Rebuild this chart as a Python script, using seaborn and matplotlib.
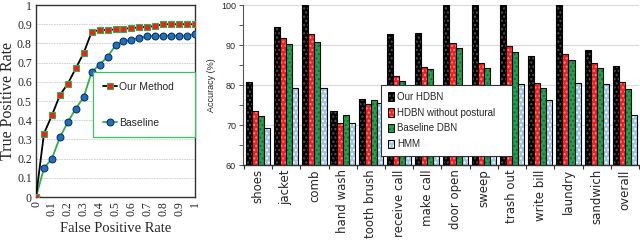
import numpy as np
import pandas as pd
import matplotlib
matplotlib.use("Agg")
import matplotlib.pyplot as plt
import seaborn as sns
from matplotlib.patches import Patch
from matplotlib.lines import Line2D

# ---------------- data ----------------
fpr = [0, 0.05, 0.1, 0.15, 0.2, 0.25, 0.3, 0.35, 0.4, 0.45, 0.5,
       0.55, 0.6, 0.65, 0.7, 0.75, 0.8, 0.85, 0.9, 0.95, 1.0]
tpr_ours = [0, 0.33, 0.425, 0.53, 0.59, 0.67, 0.75, 0.86, 0.87, 0.87, 0.873,
            0.876, 0.88, 0.883, 0.887, 0.89, 0.9, 0.9, 0.9, 0.9, 0.9]
tpr_base = [0, 0.15, 0.2, 0.31, 0.39, 0.46, 0.52, 0.65, 0.69, 0.73, 0.79,
            0.81, 0.82, 0.83, 0.837, 0.84, 0.84, 0.84, 0.84, 0.84, 0.85]

activities = ["shoes", "jacket", "comb", "hand wash", "tooth brush", "receive call",
              "make call", "door open", "sweep", "trash out", "write bill",
              "laundry", "sandwich", "overall"]
methods = ["Our HDBN", "HDBN without postural", "Baseline DBN", "HMM"]
acc_our_hdbn = [80.8, 94.4, 100, 73.5, 76.6, 92.7, 92.9, 100, 100, 100, 87.25, 100, 88.7, 84.8]
acc_no_postural = [73.6, 91.7, 92.75, 70.5, 75.2, 82.25, 84.6, 90.6, 85.6, 89.8, 80.4, 87.75, 85.5, 80.8]
acc_baseline_dbn = [72.3, 90.2, 90.75, 72.5, 76.3, 80.9, 84.1, 89.2, 84.2, 88.2, 79.3, 86.2, 84.2, 78.9]
acc_hmm = [69.3, 79.25, 79.3, 70.5, 75.4, 74.0, 76.0, 78.0, 77.0, 80.25, 76.25, 80.6, 80.2, 72.4]

# ---------------- figure ----------------
sns.set_theme(style="white")
plt.rcParams["font.family"] = ["DejaVu Sans"]
plt.rcParams["hatch.linewidth"] = 1.0

fig = plt.figure(figsize=(6.4, 2.45), dpi=100)

# ---- ROC panel ----
ax1 = fig.add_axes([36 / 640, 1 - 197 / 245, 159 / 640, 192 / 245])
green_line = "#2ab34a"
sns.lineplot(x=fpr, y=tpr_ours, ax=ax1, color="black", lw=1.3, marker="s",
             markersize=4.2, markerfacecolor="#ff1a1a", markeredgecolor="#2ab34a",
             markeredgewidth=0.8, zorder=4)
sns.lineplot(x=fpr, y=tpr_base, ax=ax1, color=green_line, lw=1.3, marker="o",
             markersize=5.0, markerfacecolor="#1f6fc0", markeredgecolor="#0a2a50",
             markeredgewidth=0.7, zorder=3)
ax1.set_xlim(0, 1)
ax1.set_ylim(0, 1)
ax1.set_xticks(np.arange(0, 1.01, 0.1))
ax1.set_yticks(np.arange(0, 1.01, 0.1))
ax1.set_xticklabels(["0", "0.1", "0.2", "0.3", "0.4", "0.5", "0.6", "0.7", "0.8", "0.9", "1"],
                    rotation=90, family="Liberation Serif", fontsize=8.5)
ax1.set_yticklabels(["0", "0.1", "0.2", "0.3", "0.4", "0.5", "0.6", "0.7", "0.8", "0.9", "1"],
                    family="Liberation Serif", fontsize=8.5)
ax1.tick_params(length=0, pad=3)
ax1.yaxis.grid(True, color="#cccccc", lw=0.6, ls=(0, (2, 1)))
ax1.xaxis.grid(False)
for s in ax1.spines.values():
    s.set_color("#333333")
    s.set_linewidth(1.0)
ax1.set_xlabel("False Positive Rate", family="Liberation Serif", fontsize=10.5, labelpad=4)
ax1.set_ylabel("True Positive Rate", family="Liberation Serif", fontsize=11.5, labelpad=1)
h1 = [Line2D([], [], color="black", lw=1.3, marker="s", markersize=4.2,
             markerfacecolor="#ff1a1a", markeredgecolor="#2ab34a", markeredgewidth=0.8),
      Line2D([], [], color=green_line, lw=1.3, marker="o", markersize=5.0,
             markerfacecolor="#1f6fc0", markeredgecolor="#0a2a50", markeredgewidth=0.7)]
leg1 = ax1.legend(h1, ["Our Method", "Baseline"], loc="center",
                  bbox_to_anchor=(0.36, 0.293, 0.64, 0.375), mode="expand",
                  fancybox=False, framealpha=1, edgecolor="#3cc060",
                  prop={"family": "Liberation Sans", "size": 7.5},
                  handlelength=1.4, handletextpad=0.2, labelspacing=2.5,
                  borderpad=0.9, borderaxespad=0)
leg1.get_frame().set_linewidth(0.9)
leg1.set_zorder(5)

# ---- bar panel ----
ax2 = fig.add_axes([243 / 640, 1 - 165 / 245, 396 / 640, 160 / 245])
df = pd.DataFrame({
    "activity": activities * 4,
    "method": sum([[m] * len(activities) for m in methods], []),
    "acc": acc_our_hdbn + acc_no_postural + acc_baseline_dbn + acc_hmm,
})
face = ["#000000", "#ff1a1a", "#1ea34c", "#9ec5e8"]
hatch_col = ["#555555", "#ff9090", "#0e6e30", "#ffffff"]
sns.barplot(data=df, x="activity", y="acc", hue="method", hue_order=methods,
            order=activities, palette=face, ax=ax2, width=0.86, gap=0,
            edgecolor="black", linewidth=0.8, legend=False, saturation=1, zorder=2)
for cont, hc in zip(ax2.containers, hatch_col):
    for p in cont:
        p.set_hatch("....")
        p._hatch_color = matplotlib.colors.to_rgba(hc)

ax2.set_ylim(60, 100)
ax2.set_xlim(-0.53, 13.5)
ax2.set_yticks([60, 70, 80, 90, 100])
ax2.set_yticks([65, 75, 85, 95], minor=True)
ax2.set_yticklabels(["60", "70", "80", "90", "100"], family="Liberation Sans", fontsize=6.5)
ax2.set_xticks(np.arange(-0.5, 13.6, 1), minor=True)
ax2.tick_params(axis="x", which="major", length=0, pad=3, labelsize=8.5, rotation=90)
ax2.tick_params(axis="x", which="minor", length=3, width=0.8, color="#333333", bottom=True)
ax2.tick_params(axis="y", which="both", length=3, width=0.7, color="#555555", left=True, pad=2)
ax2.yaxis.grid(True, color="#d9d9d9", lw=0.8, zorder=0)
ax2.set_axisbelow(True)
for side in ["top", "right"]:
    ax2.spines[side].set_visible(False)
ax2.spines["left"].set_color("#555555")
ax2.spines["left"].set_linewidth(0.8)
ax2.spines["bottom"].set_color("#333333")
ax2.spines["bottom"].set_linewidth(1.0)
ax2.set_xlabel("")
ax2.set_ylabel("Accuracy (%)", family="Liberation Sans", fontsize=6.5, labelpad=4)

h2 = []
for fc, hc in zip(face, hatch_col):
    pp = Patch(facecolor=fc, edgecolor="black", linewidth=0.7, hatch="....")
    pp._hatch_color = matplotlib.colors.to_rgba(hc)
    h2.append(pp)
leg2 = ax2.legend(h2, methods, loc="upper left",
                  bbox_to_anchor=(0.348, 0.0625, 0.331, 0.4375), mode="expand",
                  fancybox=False, framealpha=1, edgecolor="#333333",
                  prop={"family": "Liberation Sans", "size": 7},
                  handlelength=0.7, handleheight=1.0, handletextpad=0.3,
                  labelspacing=0.6, borderpad=0.7, borderaxespad=0)
leg2.get_frame().set_linewidth(0.8)
leg2.set_zorder(10)

fig.savefig("out.png", dpi=100)
